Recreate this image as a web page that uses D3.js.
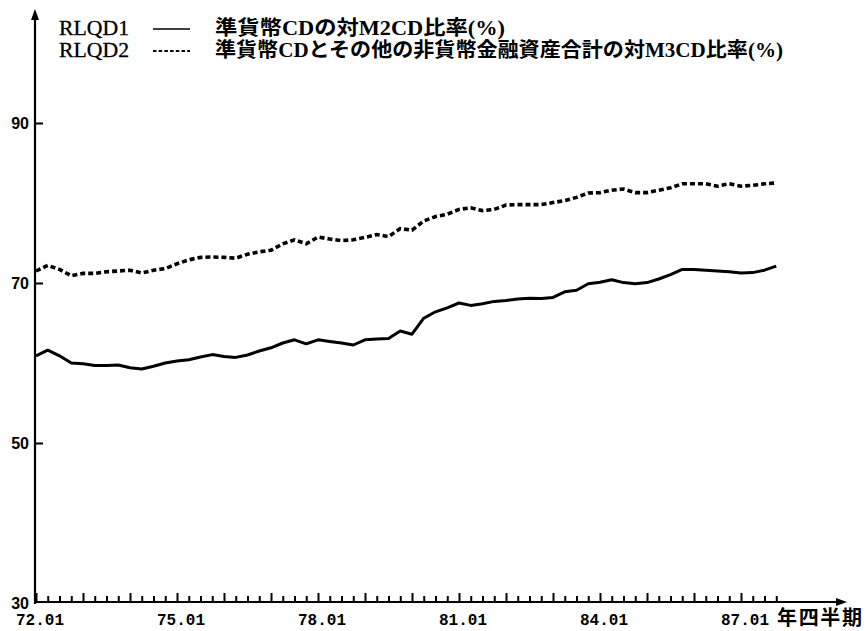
<!DOCTYPE html>
<html>
<head>
<meta charset="utf-8">
<script src="https://cdn.jsdelivr.net/npm/d3@7"></script>
<style>
  html, body { margin: 0; padding: 0; background: #fff; }
  svg { display: block; }
</style>
</head>
<body>
<svg id="chart" width="866" height="631"></svg>
<script>
// Quarterly series, 1972 Q1 – 1987 Q4 (64 quarters)
const quarterCount = 64;

// RLQD1: 準貨幣CDの対M2CD比率 (%)
const rlqd1 = [
  60.9, 61.6, 60.9, 60.0, 59.9, 59.7, 59.7, 59.75, 59.4, 59.25, 59.6, 60.0,
  60.25, 60.4, 60.75, 61.05, 60.8, 60.7, 61.0, 61.5, 61.9, 62.5, 62.9, 62.4,
  62.9, 62.7, 62.5, 62.25, 62.9, 63.0, 63.05, 64.0, 63.6, 65.6, 66.4, 66.9,
  67.5, 67.2, 67.4, 67.7, 67.8, 68.0, 68.1, 68.05, 68.2, 68.9, 69.1, 69.9,
  70.1, 70.4, 70.05, 69.9, 70.05, 70.5, 71.05, 71.7, 71.7, 71.6, 71.5, 71.4,
  71.25, 71.3, 71.6, 72.1
];

// RLQD2: 準貨幣CDとその他の非貨幣金融資産合計の対M3CD比率 (%)
const rlqd2 = [
  71.5, 72.2, 71.7, 70.9, 71.2, 71.2, 71.4, 71.5, 71.6, 71.25, 71.6, 71.8,
  72.4, 72.9, 73.2, 73.25, 73.2, 73.1, 73.6, 73.9, 74.1, 74.9, 75.4, 74.9,
  75.75, 75.5, 75.3, 75.4, 75.7, 76.05, 75.8, 76.8, 76.6, 77.75, 78.3, 78.6,
  79.2, 79.4, 79.05, 79.2, 79.75, 79.8, 79.8, 79.8, 80.05, 80.3, 80.7, 81.25,
  81.3, 81.6, 81.75, 81.3, 81.3, 81.6, 81.9, 82.4, 82.4, 82.4, 82.1, 82.4,
  82.1, 82.2, 82.4, 82.5
];

const yTicks = [30, 50, 70, 90];
const xLabelQuarters = [0, 12, 24, 36, 48, 60];
const xLabels = ["72.01", "75.01", "78.01", "81.01", "84.01", "87.01"];
const xUnitLabel = "年四半期";

const legendCodes = ["RLQD1", "RLQD2"];
const legendTexts = [
  "準貨幣CDの対M2CD比率(%)",
  "準貨幣CDとその他の非貨幣金融資産合計の対M3CD比率(%)"
];
const legendDashed = [false, true];

const svg = d3.select("#chart");

const x = d3.scaleLinear().domain([0, quarterCount - 1]).range([36, 776.25]);
const y = d3.scaleLinear().domain([30, 90]).range([603, 123]);

const originX = 35, originY = 603;

// Axis lines with arrowheads
svg.append("line")
  .attr("x1", originX).attr("y1", originY + 1)
  .attr("x2", originX).attr("y2", 18)
  .attr("stroke", "#000").attr("stroke-width", 2.2);
svg.append("path")
  .attr("d", `M${originX - 4},20 L${originX},9 L${originX + 4},20 Z`)
  .attr("fill", "#000");

svg.append("line")
  .attr("x1", originX - 1).attr("y1", originY - 1)
  .attr("x2", 838).attr("y2", originY - 1)
  .attr("stroke", "#000").attr("stroke-width", 2);
svg.append("path")
  .attr("d", `M836,${originY - 5} L847,${originY - 1} L836,${originY + 3} Z`)
  .attr("fill", "#000");

// Y axis: short inward ticks with bold labels
const yAxis = d3.axisRight(y).tickValues(yTicks.filter(v => v > 30)).tickSize(8).tickFormat("");
svg.append("g").attr("transform", `translate(${originX},0)`).call(yAxis)
  .call(g => g.select(".domain").remove())
  .call(g => g.selectAll(".tick line").attr("stroke", "#000").attr("stroke-width", 2));

svg.append("g").selectAll("text").data(yTicks).join("text")
  .attr("x", 29).attr("y", d => y(d) + 6)
  .attr("text-anchor", "end")
  .attr("font-family", "Liberation Sans, Arial, sans-serif")
  .attr("font-weight", "bold")
  .attr("font-size", 16)
  .text(d => d);

// X axis: quarterly ticks pointing up, taller at each year start
const quarterTicks = d3.range(0, quarterCount);
const xAxis = d3.axisTop(x).tickValues(quarterTicks).tickSize(6).tickFormat("");
const xg = svg.append("g").attr("transform", `translate(0,${originY - 1})`).call(xAxis);
xg.select(".domain").remove();
xg.selectAll(".tick line")
  .attr("stroke", "#000")
  .attr("stroke-width", 2)
  .attr("y2", d => (d % 4 === 0 ? -9 : -6));

svg.append("g").selectAll("text").data(xLabelQuarters).join("text")
  .attr("x", d => x(d) + 4).attr("y", 625)
  .attr("text-anchor", "middle")
  .attr("font-family", "Liberation Mono, DejaVu Sans Mono, monospace")
  .attr("font-weight", "bold")
  .attr("font-size", 16)
  .text((d, i) => xLabels[i]);

svg.append("text")
  .attr("x", 777).attr("y", 625)
  .attr("font-family", "Noto Sans CJK JP, sans-serif")
  .attr("font-weight", "bold")
  .attr("font-size", 20)
  .attr("textLength", 85)
  .text(xUnitLabel);

// Series lines
const line = d3.line().x((d, i) => x(i)).y(d => y(d));

svg.append("path").datum(rlqd2)
  .attr("d", line)
  .attr("fill", "none").attr("stroke", "#000")
  .attr("stroke-width", 3.6)
  .attr("stroke-dasharray", "5,3");

svg.append("path").datum(rlqd1)
  .attr("d", line)
  .attr("fill", "none").attr("stroke", "#000")
  .attr("stroke-width", 3)
  .attr("stroke-linejoin", "round");

// Legend
const legend = svg.append("g");
const rowY = [35, 57];
const textWidths = [290, 568];
legendCodes.forEach((code, i) => {
  legend.append("text")
    .attr("x", 59).attr("y", rowY[i])
    .attr("font-family", "Liberation Serif, Times New Roman, serif")
    .attr("font-size", 20)
    .attr("textLength", 70)
    .attr("lengthAdjust", "spacingAndGlyphs")
    .attr("stroke", "#000").attr("stroke-width", 0.3)
    .text(code);
  legend.append("line")
    .attr("x1", 153).attr("x2", 190)
    .attr("y1", rowY[i] - 6).attr("y2", rowY[i] - 6)
    .attr("stroke", "#000")
    .attr("stroke-width", legendDashed[i] ? 2 : 1.6)
    .attr("stroke-dasharray", legendDashed[i] ? "3.5,2.2" : null);
  legend.append("text")
    .attr("x", 215).attr("y", rowY[i])
    .attr("font-family", "Liberation Serif, Noto Sans CJK JP, serif")
    .attr("font-weight", "bold")
    .attr("font-size", 20)
    .attr("textLength", textWidths[i])
    .attr("lengthAdjust", "spacingAndGlyphs")
    .text(legendTexts[i]);
});
</script>
</body>
</html>
